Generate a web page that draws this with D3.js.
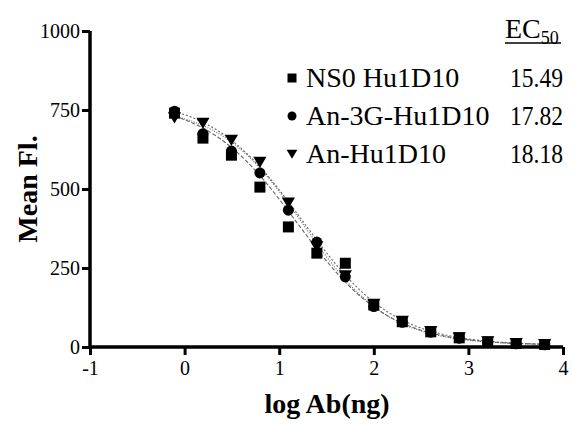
<!doctype html>
<html>
<head>
<meta charset="UTF-8">
<title>EC50 binding</title>
<script src="https://d3js.org/d3.v7.min.js"></script>
</head>
<body style="margin:0; background:#fff">
<script>
// log10 of ng, two-fold dilutions
var logDose = [-0.107, 0.194, 0.495, 0.796, 1.097, 1.398, 1.699, 2.0, 2.301, 2.602, 2.903, 3.204, 3.505, 3.806];

var names = ["NS0 Hu1D10", "An-3G-Hu1D10", "An-Hu1D10"];
var ec50Labels = ["15.49", "17.82", "18.18"];
var symbols = ["square", "circle", "triangle"];

var ns0 = [740, 661, 607, 506, 380, 297, 265, 133, 80, 48, 29, 16, 11, 8];
var an3g = [746, 675, 620, 551, 433, 332, 222, 128, 78, 47, 28, 15, 10, 7];
var an = [726, 709, 655, 585, 456, 318, 226, 136, 82, 50, 30, 17, 12, 9];

// fitted 4PL parameters
var ec50 = [15.49, 17.82, 18.18];
var top4pl = [780, 790, 765];
var bottom4pl = [5, 5, 6];
var hill = [0.9, 0.9, 0.97];
var dashes = ["4,2", "2,2", "1,1.5"];

var xTicks = [-1, 0, 1, 2, 3, 4];
var yTicks = [0, 250, 500, 750, 1000];

var w = 572, h = 424;
var FONT = "Liberation Serif";
var series = [ns0, an3g, an];

var svg = d3.select("body").append("svg").attr("width", w).attr("height", h);

var x = d3.scaleLinear().domain([-1, 4]).range([90, 563]);
var y = d3.scaleLinear().domain([0, 1000]).range([347, 31]);

// fit curves
var curveX = d3.range(logDose[0], logDose[logDose.length - 1] + 0.001, 0.02);
series.forEach(function(s, i){
    var line = d3.line()
        .x(function(d){ return x(d); })
        .y(function(d){
            var r = Math.pow(Math.pow(10, d - Math.log10(ec50[i])), hill[i]);
            return y(bottom4pl[i] + (top4pl[i] - bottom4pl[i]) / (1 + r));
        });
    svg.append("path")
        .attr("d", line(curveX))
        .attr("fill", "none")
        .attr("stroke", "#666")
        .attr("stroke-width", 1.1)
        .attr("stroke-dasharray", dashes[i]);
});

// markers
function marker(g, type, cx, cy, size){
    if(type == "square"){
        g.append("rect").attr("x", cx - size/2).attr("y", cy - size/2)
         .attr("width", size).attr("height", size).attr("fill", "#000");
    } else if(type == "circle"){
        g.append("circle").attr("cx", cx).attr("cy", cy).attr("r", size/2).attr("fill", "#000");
    } else {
        var s = size * 0.6;
        g.append("path").attr("d", "M" + (cx - s) + "," + (cy - s*0.8) + "L" + (cx + s) + "," + (cy - s*0.8) + "L" + cx + "," + (cy + s*0.9) + "Z")
         .attr("fill", "#000");
    }
}

var pts = svg.append("g");
[2, 1, 0].forEach(function(i){
    series[i].forEach(function(v, j){
        marker(pts, symbols[i], x(logDose[j]), y(v), 11);
    });
});

// axes
var xAxis = svg.append("g").attr("transform", "translate(0," + y(0) + ")")
    .call(d3.axisBottom(x).tickValues(xTicks).tickSize(8).tickPadding(6).tickFormat(d3.format("d")));
var yAxis = svg.append("g").attr("transform", "translate(" + x(-1) + ",0)")
    .call(d3.axisLeft(y).tickValues(yTicks).tickSize(8).tickPadding(2).tickFormat(d3.format("d")));

[xAxis, yAxis].forEach(function(a){
    a.select(".domain").attr("stroke", "#000").attr("stroke-width", 3.5);
    a.selectAll(".tick line").attr("stroke", "#000").attr("stroke-width", 3);
    a.selectAll(".tick text").attr("fill", "#000")
        .attr("font-family", FONT).attr("font-size", 20)
        .text(function(d){ return d < 0 ? "-" + Math.abs(d) : d; });
});
xAxis.select(".domain").attr("d", "M" + x(-1) + ",0H" + x(4));
yAxis.select(".domain").attr("d", "M0," + y(1000) + "V" + y(0));

// axis titles
svg.append("text").attr("x", 327).attr("y", 413).attr("text-anchor", "middle")
    .attr("font-family", FONT).attr("font-size", 28).attr("font-weight", "bold").text("log Ab(ng)");
svg.append("text").attr("transform", "translate(37,189) rotate(-90)").attr("text-anchor", "middle")
    .attr("font-family", FONT).attr("font-size", 28).attr("font-weight", "bold").text("Mean Fl.");

// legend
var ec = svg.append("text").attr("x", 505).attr("y", 38).attr("font-family", FONT).attr("font-size", 28);
ec.append("tspan").text("EC");
ec.append("tspan").attr("dy", 6).attr("font-size", 18).text("50");
svg.append("line").attr("x1", 505).attr("x2", 561).attr("y1", 43).attr("y2", 43)
    .attr("stroke", "#000").attr("stroke-width", 1.5);

var rowY = [87, 125, 163];
names.forEach(function(n, i){
    marker(svg, symbols[i], 292, rowY[i] - 9, 9);
    svg.append("text").attr("x", 306).attr("y", rowY[i]).attr("font-family", FONT).attr("font-size", 28).text(n);
    svg.append("text").attr("x", 510).attr("y", rowY[i]).attr("font-family", FONT).attr("font-size", 28)
        .attr("textLength", 53).attr("lengthAdjust", "spacingAndGlyphs").text(ec50Labels[i]);
});
</script>
</body>
</html>
